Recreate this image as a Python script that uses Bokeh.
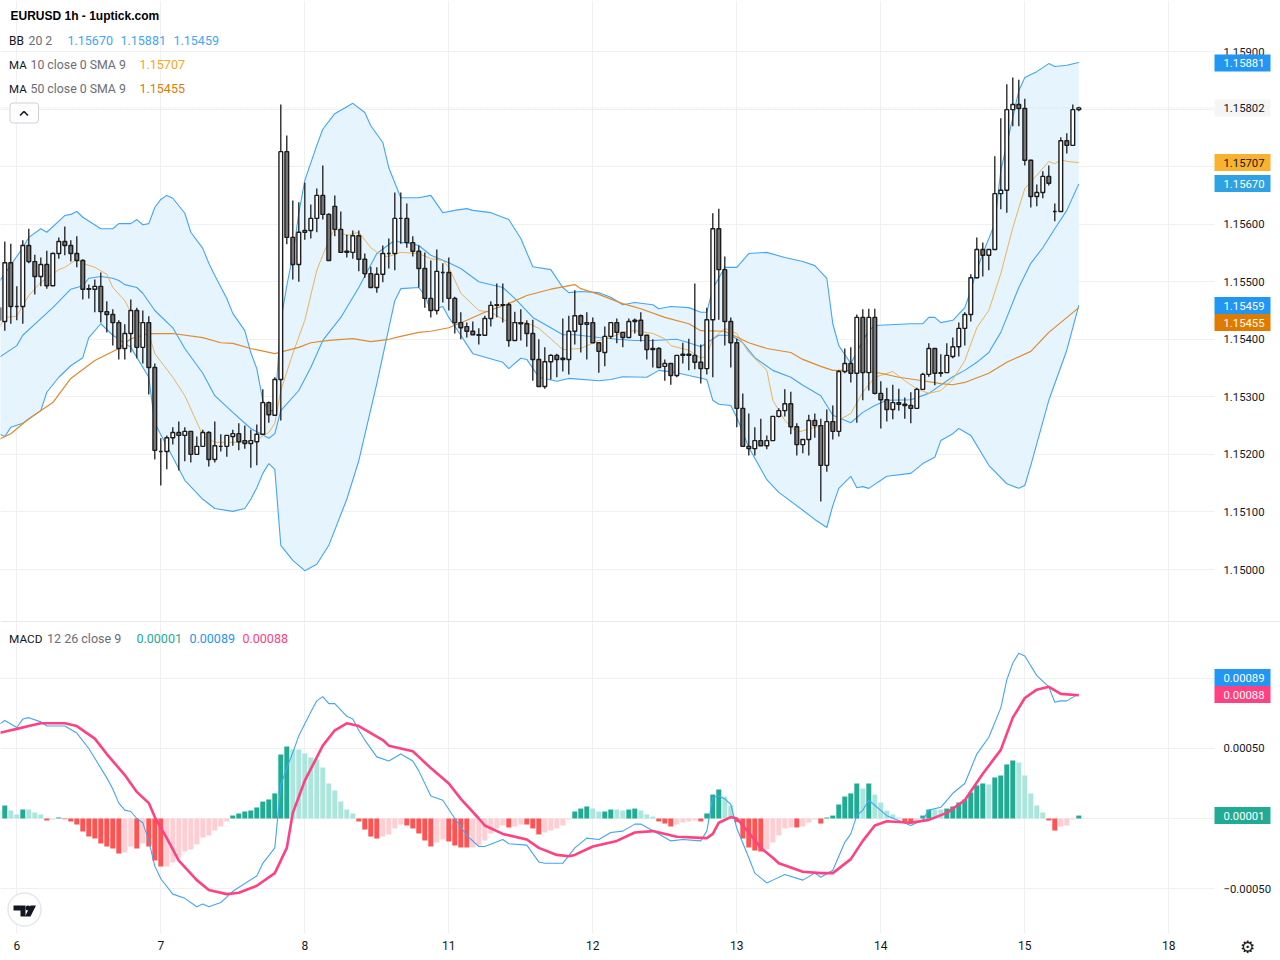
from bokeh.plotting import figure
from bokeh.layouts import column
from bokeh.models import (Range1d, FixedTicker, LinearAxis, Label, Span, BoxAnnotation,
                          NumeralTickFormatter, ColumnDataSource)
from bokeh.embed import file_html
from bokeh.resources import INLINE

# ---- candles: values are points (1e-5) above 1.15000, bar -3 .. 177, one bar per hour
FIRST_BAR = -3
OPEN = [
 455,431,533,457,457,563,535,509,530,493, 549,570,563,549,537,488,487,492,448,443,
 429,384,410,450,386,429,351,205,205,229, 238,233,240,200,214,238,191,214,214,231,
 236,224,219,222,235,290,268,330,726,577, 530,586,589,610,650,617,631,591,553,551,
 580,539,514,490,513,549,549,610,610,568, 553,523,471,450,516,516,471,429,422,414,
 408,407,436,460,460,460,398,429,427,410, 365,318,361,372,367,365,414,441,426,429,
 394,377,405,429,412,403,433,433,407,384, 384,353,358,337,374,374,372,360,349,434,
 592,521,431,394,280,214,210,224,215,224, 266,276,288,248,217,226,259,250,181,257,
 240,344,358,341,438,342,438,306,295,278, 290,287,285,280,313,339,384,342,342,370,
 387,419,443,507,556,546,556,653,659,799, 808,801,711,648,655,683,622,622,745,737, 799]
CLOSE = [
 433,533,457,457,563,535,509,530,493,549, 570,563,549,537,487,487,492,448,443,429,
 384,410,450,386,429,351,207,205,229,238, 233,240,200,214,238,191,215,214,233,236,
 222,219,224,235,290,269,330,726,577,530, 586,589,610,650,617,537,591,551,551,580,
 539,514,490,513,549,549,610,610,568,553, 523,471,450,518,516,471,429,420,414,408,
 407,436,459,459,459,398,429,427,410,365, 318,361,372,365,365,414,441,426,429,394,
 379,405,429,412,403,431,431,407,382,382, 351,358,337,372,372,372,360,349,434,592,
 521,431,394,280,214,210,224,215,224,266, 276,288,248,217,226,259,250,181,257,240,
 344,358,341,438,342,438,306,295,278,290, 287,285,280,313,339,384,341,341,372,387,
 419,443,507,556,546,556,653,659,799,808, 801,711,648,655,683,671,622,745,737,799, 802]
HIGH = [
 485,570,566,492,572,592,547,542,554,551, 577,596,572,579,539,495,504,516,466,452,
 433,426,469,455,450,440,358,228,233,247, 257,247,240,231,243,240,257,235,233,243,
 254,250,243,252,313,292,334,808,754,641, 638,672,634,662,702,619,650,622,582,589,
 589,549,526,525,563,575,655,655,636,579, 563,551,537,556,532,542,474,447,429,431,
 419,441,466,497,497,464,448,452,433,434, 400,386,374,375,436,441,485,443,447,438,
 394,422,429,436,412,436,436,447,408,400, 386,365,358,372,394,401,497,391,455,619,
 627,544,438,401,306,271,247,262,233,266, 280,313,309,254,226,269,271,262,278,285,
 346,384,386,443,452,453,453,327,316,321, 314,299,308,316,342,393,384,374,393,403,
 429,447,513,577,568,556,718,784,843,855, 851,818,712,669,692,702,636,751,758,808, 804]
LOW = [
 415,415,427,433,427,532,478,492,488,493, 540,546,535,525,469,471,447,429,412,389,
 365,365,377,367,358,304,191,146,174,217, 172,188,186,200,214,179,186,205,196,215,
 207,210,177,181,235,255,268,259,565,504, 500,573,575,586,608,537,579,551,542,540,
 518,507,490,481,499,523,520,566,559,544, 490,455,438,443,464,450,410,400,403,408,
 391,407,422,438,429,387,398,398,387,328, 318,314,330,334,344,339,391,377,365,394,
 342,353,401,393,386,403,410,396,365,351, 351,328,321,334,358,346,348,323,339,334,
 434,389,351,247,214,198,198,215,209,224, 264,266,235,198,202,198,229,118,170,226,
 231,341,325,255,294,311,304,245,257,261, 276,262,254,280,313,335,320,335,342,367,
 370,389,431,506,509,520,556,626,620,770, 770,702,629,631,645,667,605,622,723,737, 796]

# ---- overlays: (bar, points above 1.15000)
BB_UPPER = [(-3,499),(1,559),(2,577),(4,592),(5,586),(8,615),(9,617),(10,622),(11,612),(14,592),(16,592),(17,601),(19,601),(20,608),(21,599),(22,601),(23,629),(24,643),(25,650),(26,645),(28,619),(29,586),(31,558),(32,532),(33,511),(35,471),(36,445),(38,415),(39,377),(40,349),(41,294),(42,276),(43,276),(44,433),(45,493),(46,546),(47,619),(48,676),(50,737),(51,765),(53,792),(56,810),(58,794),(59,771),(61,742),(62,698),(64,646),(67,646),(69,650),(71,620),(73,624),(75,627),(76,624),(79,620),(82,608),(84,575),(86,526),(89,521),(91,490),(92,481),(94,483),(97,481),(99,473),(101,460),(103,464),(106,460),(107,453),(109,457),(112,455),(114,447),(115,447),(116,488),(118,525),(120,525),(122,549),(125,551),(128,542),(131,535),(133,528),(135,506),(136,427),(137,389),(139,358),(141,398),(142,415),(143,424),(149,427),(151,427),(152,438),(153,438),(154,429),(156,433),(158,455),(159,485),(160,520),(161,549),(163,601),(164,693),(166,785),(167,832),(168,855),(170,865),(172,879),(173,874),(175,876),(177,881)]
BB_LOWER = [(-3,236),(-2,231),(-1,247),(1,254),(4,276),(5,308),(7,334),(9,354),(11,368),(12,403),(14,427),(16,407),(19,386),(22,334),(23,254),(26,195),(28,155),(31,122),(33,106),(36,101),(38,106),(39,122),(40,142),(41,167),(42,184),(43,174),(44,42),(46,16),(48,-2),(50,9),(52,42),(55,122),(57,189),(60,323),(63,467),(64,488),(67,490),(68,476),(69,450),(71,457),(72,438),(74,407),(76,375),(81,360),(82,349),(84,367),(85,365),(87,334),(90,327),(92,332),(97,328),(99,330),(101,335),(105,334),(107,346),(110,342),(112,337),(115,330),(116,294),(117,287),(119,285),(120,264),(122,212),(125,156),(127,134),(131,103),(133,87),(135,73),(136,111),(137,141),(139,162),(140,142),(141,144),(142,141),(145,162),(149,167),(151,184),(153,195),(154,224),(156,236),(157,245),(159,233),(162,181),(165,149),(167,141),(168,146),(169,181),(172,294),(175,381),(177,459)]
BB_BASIS = [(-3,368),(0,389),(1,407),(4,436),(6,455),(9,487),(11,493),(12,506),(14,509),(16,506),(17,502),(18,495),(20,490),(21,480),(23,450),(26,420),(28,384),(31,341),(33,302),(36,273),(39,245),(42,228),(43,236),(44,276),(47,311),(49,351),(51,398),(54,438),(57,490),(60,549),(63,572),(64,568),(65,568),(67,563),(69,546),(72,533),(74,523),(77,500),(81,490),(83,471),(86,438),(89,420),(91,408),(93,408),(97,403),(100,400),(103,398),(106,398),(110,400),(112,394),(114,387),(115,394),(117,407),(119,407),(121,394),(123,368),(126,346),(129,334),(131,320),(134,302),(136,268),(139,255),(141,273),(143,285),(145,294),(149,295),(152,306),(156,335),(158,346),(160,360),(162,377),(164,412),(167,490),(169,532),(171,559),(173,592),(175,624),(177,670)]
MA10 = [(-3,419),(-2,438),(0,440),(1,459),(2,476),(4,499),(5,506),(7,521),(8,525),(10,539),(11,532),(13,525),(15,513),(16,490),(18,467),(19,447),(22,410),(23,375),(26,334),(28,302),(31,233),(33,221),(38,221),(40,226),(42,238),(43,254),(44,311),(46,375),(48,433),(50,520),(52,572),(53,592),(55,580),(57,586),(59,559),(61,544),(62,544),(64,551),(67,549),(69,540),(71,537),(72,525),(74,480),(77,450),(79,447),(82,429),(85,429),(87,419),(89,401),(91,382),(94,384),(97,398),(99,403),(101,412),(103,415),(106,410),(108,401),(109,389),(112,381),(114,367),(115,372),(116,401),(118,419),(120,410),(122,377),(125,346),(126,294),(128,259),(130,238),(133,247),(136,254),(139,271),(141,308),(143,334),(146,344),(148,328),(150,314),(152,306),(154,311),(156,330),(158,363),(160,420),(162,450),(164,514),(166,594),(168,662),(170,685),(172,709),(173,705),(174,712),(175,709),(177,707)]
MA50 = [(-3,226),(-1,236),(2,262),(6,290),(9,332),(13,363),(17,384),(19,401),(22,410),(26,410),(31,403),(34,394),(36,393),(39,384),(43,375),(47,386),(49,394),(52,398),(56,401),(59,396),(62,400),(64,405),(67,412),(69,414),(72,420),(75,433),(78,447),(82,462),(85,476),(89,487),(93,495),(94,488),(97,478),(101,462),(104,453),(108,438),(112,427),(114,415),(118,414),(122,394),(125,384),(129,377),(131,365),(134,353),(136,346),(138,346),(142,344),(144,341),(147,334),(151,328),(154,323),(156,321),(158,325),(162,341),(165,360),(169,379),(172,412),(177,455)]

# ---- MACD pane, values in 1e-5
HIST = [
 5.7,9.3,5.7,2.9,6.4,6.4,4.3,2.9,-1.4,-.7, .7,-.5,-2.1,-4.3,-9.3,-12.9,-14.3,-17.9,-20,-21.4,
 -25,-24.3,-20,-21.4,-17.9,-20,-30,-34.3,-34.3,-31.4, -27.9,-23.6,-22.1,-18.6,-13.6,-12.1,-8.6,-5.7,-2.1,2.1,
 3.6,5,5.7,7.9,12.1,13.6,17.9,45.7,51.4,49.3, 49.3,46.4,43.6,42.1,36.4,25,20,12.1,6.4,3.6,
 -2.1,-7.9,-12.9,-14.3,-12.9,-11.4,-7.1,-4.3,-5,-7.1, -10.7,-15.7,-20,-17.1,-15,-16.4,-19.3,-20.7,-20.7,-20.7,
 -19.3,-15.7,-10.7,-7.1,-5,-6.4,-5.7,-4.3,-4.3,-7.1, -11.4,-10,-8.6,-7.1,-5,-.7,5,7.1,8.6,7.1,
 5,5,6.4,6.4,5.7,6.4,7.1,5.7,2.9,1.4, -2.1,-3.6,-5.7,-4.3,-2.9,-2.1,-1.4,-2.1,3.6,17.1,
 20.7,15.7,9.3,-2.6,-14.3,-20.7,-22.9,-23.6,-22.1,-17.1, -12.1,-7.1,-6.4,-6.4,-5.7,-2.9,-.7,-3.6,.7,2.1,
 10,15.7,17.9,25,21.4,25,17.1,11.4,5.7,2.9, .7,-2.1,-2.9,-1.4,2.1,6.4,6.4,6.4,7.1,8.6,
 11.4,13.6,18.6,23.6,25,24.3,29.3,30.7,38.6,41.4, 40,30.7,17.9,9.3,4.3,-1.4,-8.6,-5.7,-5,-.7, 2.1]
HIST_KIND = ("gGggGgggRr" "GRRRRRRRRR" "RrrRrRRRrr" "rrrrrrrrrG" "GGGGGGGGGg" "gggggggggg"
             "RRRRrrrrRR" "RRRrrRRRRr" "rrrrrRrrRR" "RrrrrrGGGg" "gGGggGGggg" "RRRrrrrRGG"
             "GggRRRRRrr" "rrrRrrrRGG" "GGGGgGgggg" "gRRrGGggGG" "GGGGGgGGGG" "gggggRRrrr" "G")
MACD = [(-3,67),(-2,70),(0,65),(1,71),(2,72),(4,69),(5,66),(8,66),(10,61),(12,50),(13,43),(15,29),(16,21),(17,11),(18,6),(19,5),(20,0),(21,-3),(22,-16),(23,-34),(24,-43),(26,-54),(28,-57),(30,-63),(31,-61),(32,-63),(34,-60),(36,-52),(40,-41),(41,-32),(43,-21),(44,24),(45,36),(46,47),(47,59),(49,76),(50,84),(51,87),(52,82),(53,82),(55,73),(56,71),(57,63),(58,56),(60,44),(62,41),(64,46),(66,41),(67,34),(69,16),(71,13),(73,0),(75,-12),(77,-20),(78,-20),(81,-15),(82,-18),(85,-19),(87,-31),(88,-32),(91,-32),(93,-21),(95,-14),(97,-15),(99,-10),(101,-9),(103,-4),(104,-4),(107,-11),(109,-16),(111,-15),(114,-16),(115,-9),(116,15),(117,16),(118,14),(119,10),(120,-7),(122,-28),(123,-39),(125,-46),(126,-44),(128,-40),(131,-44),(133,-39),(134,-42),(136,-37),(138,-17),(139,-11),(140,2),(141,6),(142,13),(145,2),(149,-5),(151,-1),(152,6),(154,8),(156,18),(158,25),(160,46),(162,58),(164,79),(165,99),(166,111),(167,118),(168,116),(170,102),(172,94),(173,83),(174,84),(175,84),(177,89)]
SIGNAL = [(-3,61),(-1,63),(0,64),(2,66),(4,68),(8,68),(10,66),(13,57),(15,46),(18,31),(20,19),(22,11),(23,1),(25,-14),(27,-30),(30,-44),(32,-51),(35,-54),(37,-53),(40,-48),(43,-39),(45,-21),(46,4),(48,27),(51,52),(53,63),(55,68),(57,66),(61,56),(62,52),(66,48),(67,44),(69,36),(72,25),(74,14),(77,0),(78,-5),(81,-11),(85,-15),(87,-21),(90,-26),(92,-27),(93,-26),(96,-20),(100,-16),(103,-10),(106,-9),(110,-13),(115,-14),(116,-11),(117,-3),(119,1),(120,0),(122,-10),(124,-21),(126,-28),(127,-32),(131,-38),(134,-39),(136,-39),(139,-29),(141,-16),(143,-5),(145,-2),(149,-3),(152,-1),(155,4),(158,13),(161,32),(164,49),(166,72),(168,86),(170,92),(172,94),(174,89),(177,88)]

DAY_BARS = [0, 24, 48, 72, 96, 120, 144, 168, 192]
DAY_LABELS = ["6", "7", "8", "11", "12", "13", "14", "15", "18"]
PRICE_TICKS = [1.150, 1.151, 1.152, 1.153, 1.154, 1.155, 1.156, 1.157, 1.158, 1.159]
MACD_TICKS = [-0.0005, 0, 0.0005, 0.001]

# ---- scale helpers: page pixel <-> chart units
X0 = -16.3 / 6
def bx(px): return X0 + px / 6
def py(y): return 1.15 + (569 - y) * 1.7375e-5
def my(y): return (818 - y) * 0.714e-5
def price(v): return 1.15 + v * 1e-5

W, H1, H2 = 1280, 622, 338
FRAME_W = 1214
GRID = "#f0f0f2"
INK = "#131722"
MUTED = "#6a6d78"
FONT = "Roboto"

bars = list(range(FIRST_BAR, FIRST_BAR + len(CLOSE)))
x_range = Range1d(bx(0), bx(W))

def base_figure(height, y_range):
    p = figure(width=W, height=height, x_range=x_range, y_range=y_range,
               output_backend="svg", toolbar_location=None, x_axis_location=None, y_axis_location=None,
               min_border=0, outline_line_color=None, background_fill_color="white",
               border_fill_color="white")
    p.xgrid.ticker = FixedTicker(ticks=DAY_BARS)
    p.xgrid.grid_line_color = GRID
    p.ygrid.grid_line_color = GRID
    return p

def style_axis(a):
    a.axis_line_color = None
    a.major_tick_line_color = None
    a.minor_tick_line_color = None
    a.major_tick_out = 0
    a.major_tick_in = 0
    a.major_label_text_font = FONT
    a.major_label_text_color = INK
    a.major_label_text_font_size = "11.3px"

def text(p, x, y, s, color=INK, size="12.3px", style="normal", font=FONT, **kw):
    p.add_layout(Label(x=x, y=y, text=s, text_color=color, text_font_size=size,
                       text_font=font, text_font_style=style,
                       text_baseline="middle", **kw))

def tag(p, conv, y_px, s, bg, color="white"):
    p.quad(left=[bx(1214)], right=[bx(1270)], top=[conv(y_px - 8.5)], bottom=[conv(y_px + 8.5)],
           fill_color=bg, line_color=None, level="annotation")
    p.add_layout(Label(x=bx(1223), y=conv(y_px), text=s, text_color=color, text_font=FONT,
                       text_font_size="11.3px", text_baseline="middle"))

# ---- price pane
p1 = base_figure(H1, Range1d(py(H1), py(0)))
p1.ygrid.ticker = FixedTicker(ticks=PRICE_TICKS)
p1.quad(left=[bx(FRAME_W)], right=[bx(W)], top=[py(0)], bottom=[py(H1)], fill_color="white", line_color=None)
ax1 = LinearAxis(ticker=FixedTicker(ticks=PRICE_TICKS), formatter=NumeralTickFormatter(format="0.00000"),
                 fixed_location=bx(FRAME_W))
style_axis(ax1)
ax1.major_label_standoff = 9
p1.add_layout(ax1, "right")

band_x = [b for b, _ in BB_UPPER] + [b for b, _ in BB_LOWER][::-1]
band_y = [price(v) for _, v in BB_UPPER] + [price(v) for _, v in BB_LOWER][::-1]
p1.patch(band_x, band_y, fill_color="#e6f4fd", line_color=None)
p1.line([bx(0), bx(FRAME_W)], [price(CLOSE[-1])] * 2, line_color="#d8d8dc", line_dash="1 2", line_width=1)

for series, col, w in ((BB_UPPER, "#42a5f5", 1.1), (BB_LOWER, "#42a5f5", 1.1), (BB_BASIS, "#42a5f5", 1.1),
                       (MA10, "#eeb35a", 1), (MA50, "#e08a2c", 1.2)):
    p1.line([b for b, _ in series], [price(v) for _, v in series], line_color=col, line_width=w)

src = ColumnDataSource(dict(
    x=bars,
    o=[price(v) for v in OPEN], c=[price(v) for v in CLOSE],
    h=[price(v) for v in HIGH], l=[price(v) for v in LOW],
    fill=["#ffffff" if c >= o else "#787878" for o, c in zip(OPEN, CLOSE)],
))
p1.segment("x", "h", "x", "l", source=src, line_color="#1c1c1c", line_width=1.3)
p1.vbar("x", 0.62, "o", "c", source=src, fill_color="fill", line_color="#1c1c1c", line_width=1.4)

text(p1, bx(10), py(15), "EURUSD 1h - 1uptick.com", color="#000000", size="12px", style="bold",
     font="Liberation Sans")
text(p1, bx(8.5), py(40), "BB", size="12px")
text(p1, bx(28), py(40), "20 2", color=MUTED)
for x_, s in ((67, "1.15670"), (120, "1.15881"), (173, "1.15459")):
    text(p1, bx(x_), py(40), s, color="#42a5f5", size="12.5px")
text(p1, bx(8.5), py(64), "MA", size="11.5px")
text(p1, bx(30), py(64), "10 close 0 SMA 9", color=MUTED)
text(p1, bx(139), py(64), "1.15707", color="#f5a623", size="12.5px")
text(p1, bx(8.5), py(88), "MA", size="11.5px")
text(p1, bx(30), py(88), "50 close 0 SMA 9", color=MUTED)
text(p1, bx(139), py(88), "1.15455", color="#e07b00", size="12.5px")

p1.add_layout(BoxAnnotation(left=bx(9.5), right=bx(38), top=py(102.5), bottom=py(122.5),
                            fill_color="white", fill_alpha=1, line_color="#cfd1d8", line_alpha=1,
                            border_radius=3))
p1.line([bx(19.5), bx(23.5), bx(27.5)], [py(115), py(111), py(115)], line_color=INK, line_width=1.6,
        level="overlay")

tag(p1, py, 62.5, "1.15881", "#2196f3")
tag(p1, py, 107.5, "1.15802", "#f5f5f6", INK)
tag(p1, py, 162, "1.15707", "#f9b22e", INK)
tag(p1, py, 183, "1.15670", "#2fa2e3")
tag(p1, py, 305, "1.15459", "#2196f3")
tag(p1, py, 322, "1.15455", "#e07b00")

# separator between panes
p1.add_layout(Span(location=py(621.2), dimension="width", line_color="#e0e3eb", line_width=1))

# ---- MACD pane
TOP2 = H1
p2 = base_figure(H2, Range1d(my(TOP2 + H2), my(TOP2)))
p2.ygrid.ticker = FixedTicker(ticks=MACD_TICKS)
# white strips keep the grid out of the two axis areas
p2.quad(left=[bx(FRAME_W)], right=[bx(W)], top=[my(TOP2)], bottom=[my(TOP2 + H2)], fill_color="white", line_color=None)
p2.quad(left=[bx(0)], right=[bx(W)], top=[my(933)], bottom=[my(TOP2 + H2)], fill_color="white", line_color=None)
ax2 = LinearAxis(ticker=FixedTicker(ticks=MACD_TICKS), fixed_location=bx(FRAME_W))
ax2.major_label_overrides = {0.0005: "0.00050", -0.0005: "\u22120.00050", 0: "", 0.001: ""}
style_axis(ax2)
ax2.major_label_standoff = 9
p2.add_layout(ax2, "right")

xa = LinearAxis(ticker=FixedTicker(ticks=DAY_BARS), fixed_location=my(933))
xa.major_label_overrides = dict(zip(DAY_BARS, DAY_LABELS))
style_axis(xa)
xa.major_label_standoff = 7
xa.major_label_text_font_size = "12px"
p2.add_layout(xa, "below")

HIST_COLORS = {"G": "#22ab94", "g": "#ace5dc", "R": "#ff5252", "r": "#ffcdd2"}
p2.vbar(bars, 5 / 6, 0, [v * 1e-5 for v in HIST],
        fill_color=[HIST_COLORS[k] for k in HIST_KIND], line_color=None)
p2.line([b for b, _ in MACD], [v * 1e-5 for _, v in MACD], line_color="#42a5f5", line_width=1.1)
p2.line([b for b, _ in SIGNAL], [v * 1e-5 for _, v in SIGNAL], line_color="#ff4081", line_width=2.6,
        line_join="round")

text(p2, bx(8.5), my(638), "MACD", size="11.8px")
text(p2, bx(46.5), my(638), "12 26 close 9", color=MUTED, size="12.5px")
text(p2, bx(136), my(638), "0.00001", color="#22ab94", size="12.5px")
text(p2, bx(189), my(638), "0.00089", color="#2196f3", size="12.5px")
text(p2, bx(242), my(638), "0.00088", color="#ff4081", size="12.5px")

tag(p2, my, 677, "0.00089", "#2196f3")
tag(p2, my, 694, "0.00088", "#ff4081")
tag(p2, my, 815, "0.00001", "#22ab94")

# logo badge
p2.scatter([bx(24)], [my(909)], size=33, fill_color="white", line_color="#e6e7ea", line_width=1.5,
           level="overlay")
p2.patch([bx(v) for v in (13, 25, 25, 20, 20, 13)], [my(v) for v in (905, 905, 916, 916, 910, 910)],
         fill_color=INK, line_color=None, level="overlay")
p2.patch([bx(v) for v in (30, 35.5, 30, 24.5)], [my(v) for v in (905, 905, 916, 916)],
         fill_color=INK, line_color=None, level="overlay")
p2.scatter([bx(27.5)], [my(907.5)], size=5, fill_color=INK, line_color=None, level="overlay")

# settings glyph
text(p2, bx(1247), my(946), "\u2699", size="17px", font="DejaVu Sans", text_align="center")

layout = column(p1, p2, spacing=0)
open("out.html", "w").write(file_html(layout, INLINE))
